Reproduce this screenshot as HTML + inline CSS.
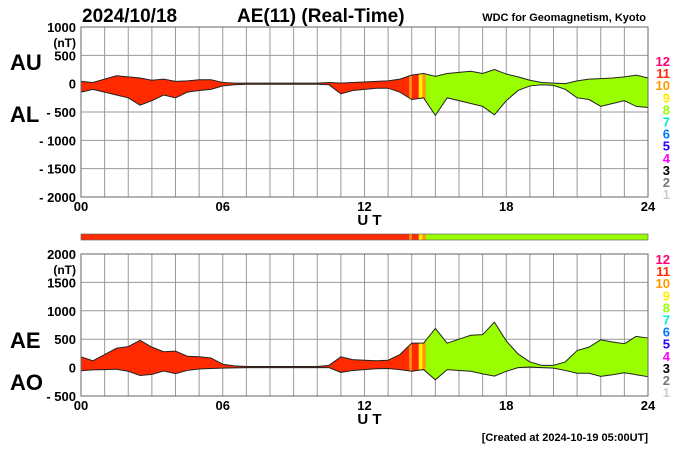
<!DOCTYPE html>
<html><head><meta charset="utf-8"><style>
body{margin:0;background:#fff;}
svg{display:block;font-family:"Liberation Sans",sans-serif;}
</style></head><body>
<svg id="c" width="700" height="450" viewBox="0 0 700 450"></svg>
<script>
// Data: half-hourly values (hours 0..24)
const hours = [0,0.5,1,1.5,2,2.5,3,3.5,4,4.5,5,5.5,6,6.5,7,7.5,8,8.5,9,9.5,10,10.5,11,11.5,12,12.5,13,13.5,14,14.5,15,15.5,16,16.5,17,17.5,18,18.5,19,19.5,20,20.5,21,21.5,22,22.5,23,23.5,24];
const auValues = [40,20,80,140,120,100,60,80,40,50,70,70,20,10,10,10,10,10,10,10,10,20,10,20,30,40,50,80,150,180,130,180,200,220,180,250,170,120,60,20,10,0,50,80,90,100,120,150,100];
const alValues = [-150,-100,-150,-200,-250,-380,-300,-200,-250,-150,-120,-100,-40,-20,-10,-10,-10,-10,-10,-10,-10,-20,-180,-120,-100,-80,-80,-150,-280,-250,-560,-250,-300,-350,-400,-550,-300,-120,-40,-20,-30,-100,-250,-280,-400,-350,-300,-400,-420];
// Station-count segments: [start hour, end hour, level]
const segStart = [0,13.9,14.0,14.3,14.45,14.6];
const segEnd = [13.9,14.0,14.3,14.45,14.6,24];
const segLevel = [11,10,11,9,10,8];
const levelColors = {1:"#cccccc",2:"#777777",3:"#000000",4:"#ff00ff",5:"#2200ff",6:"#0077ff",7:"#00eecc",8:"#99ff00",9:"#ffee00",10:"#ff9900",11:"#ff2a00",12:"#ff0077"};
const topTicks = [1000,500,0,-500,-1000,-1500,-2000];
const botTicks = [2000,1500,1000,500,0,-500];
const xTicks = ["00","06","12","18","24"];

const NS="http://www.w3.org/2000/svg";
const svg=document.getElementById('c');
function mk(tag,attrs,parent){const e=document.createElementNS(NS,tag);for(const k in attrs)e.setAttribute(k,attrs[k]);(parent||svg).appendChild(e);return e;}
const X0=81,X1=648;
const xs=h=>X0+(X1-X0)*h/24;
const topY=v=>27+(1000-v)*(170/3000);
const botY=v=>254+(2000-v)*(142/2500);
const aeValues=auValues.map((u,i)=>u-alValues[i]);
const aoValues=auValues.map((u,i)=>(u+alValues[i])/2);

function txt(x,y,s,attrs,name){const t=mk('text',Object.assign({x:x,y:y},attrs));t.textContent=s;


return t;}

function panel(yf,y0,y1,ticks,upper,lower,pid,lab1,lab2,labY1,labY2,levY){
  // grid
  const g=mk('g',{});
  
  
  for(let h=0;h<=24;h++){mk('line',{x1:xs(h),x2:xs(h),y1:y0,y2:y1,stroke:'#999','stroke-width':1},g);}
  ticks.forEach(v=>{mk('line',{x1:X0,x2:X1,y1:yf(v),y2:yf(v),stroke:'#999','stroke-width':1},g);});
  // fill per segment
  let pts=hours.map((h,i)=>xs(h)+','+yf(upper[i])).concat(hours.slice().reverse().map((h,j)=>{const i=hours.length-1-j;return xs(h)+','+yf(lower[i]);})).join(' ');
  segStart.forEach((s,k)=>{
    const cp=mk('clipPath',{id:pid+'clip'+k});
    mk('rect',{x:xs(s),y:y0,width:xs(segEnd[k])-xs(s),height:y1-y0},cp);
    const p=mk('polygon',{points:pts,fill:levelColors[segLevel[k]],'clip-path':'url(#'+pid+'clip'+k+')'});
    
    
  });
  const lu=mk('polyline',{points:hours.map((h,i)=>xs(h)+','+yf(upper[i])).join(' '),fill:'none',stroke:'#222','stroke-width':1});
  
  
  const ll=mk('polyline',{points:hours.map((h,i)=>xs(h)+','+yf(lower[i])).join(' '),fill:'none',stroke:'#222','stroke-width':1});
  
  
  // frame
  const fr=mk('rect',{x:X0,y:y0,width:X1-X0,height:y1-y0,fill:'none',stroke:'#666','stroke-width':1});
  
  
  // y ticks
  ticks.forEach(v=>{txt(76,yf(v)+5,v<0?'- '+(-v):String(v),{'font-size':13,'font-weight':'bold','text-anchor':'end'},pid+'-y-tick');});
  txt(76,y0+20,'(nT)',{'font-size':12,'font-weight':'bold','text-anchor':'end'},pid+'-unit');
  // x ticks
  xTicks.forEach((s,i)=>{txt(xs(i*6),y1+14,s,{'font-size':13,'font-weight':'bold','text-anchor':'middle'},pid+'-x-tick');});
  txt(xs(12)+5,y1+28,'U T',{'font-size':15,'font-weight':'bold','text-anchor':'middle'},pid+'-x-title');
  txt(10,labY1,lab1,{'font-size':22,'font-weight':'bold'},pid+'-label-'+lab1.toLowerCase());
  txt(10,labY2,lab2,{'font-size':22,'font-weight':'bold'},pid+'-label-'+lab2.toLowerCase());
  for(let l=12;l>=1;l--){txt(670,levY+(12-l)*12.1,String(l),{'font-size':13,'font-weight':'bold','text-anchor':'end',fill:levelColors[l]},pid+'-level-'+l);}
}
panel(topY,27,197,topTicks,auValues,alValues,'top','AU','AL',70,122,66);
panel(botY,254,396,botTicks,aeValues,aoValues,'bottom','AE','AO',348,390,264);

// color bar
segStart.forEach((s,k)=>{
  const r=mk('rect',{x:xs(s),y:234,width:xs(segEnd[k])-xs(s),height:6,fill:levelColors[segLevel[k]]});
  
  
});
const cb=mk('rect',{x:X0,y:234,width:X1-X0,height:6,fill:'none',stroke:'#666','stroke-width':0.7});



txt(82,22,'2024/10/18',{'font-size':19,'font-weight':'bold'},'date-title');
txt(237,22,'AE(11) (Real-Time)',{'font-size':19,'font-weight':'bold'},'chart-title');
txt(646,21,'WDC for Geomagnetism, Kyoto',{'font-size':11,'font-weight':'bold','text-anchor':'end'},'source-label');
txt(648,441,'[Created at 2024-10-19 05:00UT]',{'font-size':11,'font-weight':'bold','text-anchor':'end'},'created-label');
</script>
</body></html>
